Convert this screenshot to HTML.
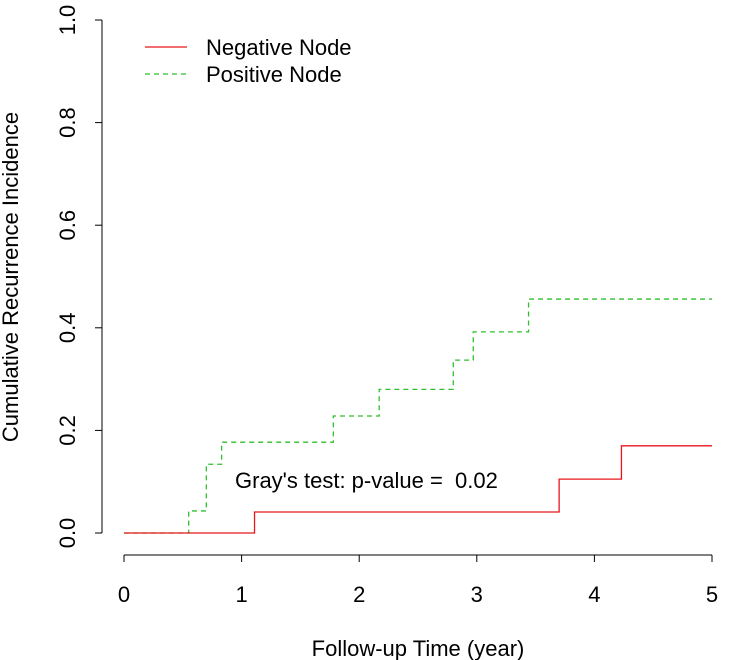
<!DOCTYPE html>
<html><head><meta charset="utf-8"><style>
body{margin:0;background:#fff}
svg{display:block;font-family:"Liberation Sans",Arial,sans-serif}
</style></head><body>
<svg width="736" height="660" id="c">
<g id="axes"></g><g id="series"></g>
<text x="235" y="488" font-size="22" style="white-space:pre">Gray's test: p-value =  0.02</text>
<text x="418" y="656" font-size="22" text-anchor="middle">Follow-up Time (year)</text>
<text transform="translate(18,277) rotate(-90)" font-size="22" text-anchor="middle">Cumulative Recurrence Incidence</text>
<g>
<g><line x1="145" y1="47" x2="187" y2="47" stroke="#e8161b" stroke-width="1.3"/><text x="206" y="55" font-size="22">Negative Node</text></g>
<g><line x1="145" y1="74" x2="187" y2="74" stroke="#2fbf2f" stroke-width="1.3" stroke-dasharray="5,4"/><text x="206" y="82" font-size="22">Positive Node</text></g>
</g>
</svg>
<script>
const xTicks=[0,1,2,3,4,5];
const yTicks=[0,0.2,0.4,0.6,0.8,1.0];
const yTickLabels=["0.0","0.2","0.4","0.6","0.8","1.0"];
const negTimes=[0,1.11,3.70,4.23,5];
const negValues=[0,0.041,0.105,0.17,0.17];
const posTimes=[0,0.55,0.70,0.83,1.78,2.17,2.80,2.97,3.44,5];
const posValues=[0,0.043,0.134,0.177,0.228,0.28,0.337,0.392,0.456,0.456];
const X=v=>124+v*117.6, Y=v=>533-v*513;
const NS="http://www.w3.org/2000/svg";
function mk(t,a,p){const e=document.createElementNS(NS,t);for(const k in a)e.setAttribute(k,a[k]);p.appendChild(e);return e;}
const ax=document.getElementById('axes');
let l=mk('line',{x1:X(0),y1:555,x2:X(5),y2:555,stroke:'#000'},ax);


xTicks.forEach(t=>{mk('line',{x1:X(t),y1:555,x2:X(t),y2:562,stroke:'#000'},ax);
const tx=mk('text',{x:X(t),y:602,'font-size':22,'text-anchor':'middle'},ax);tx.textContent=t;

});
l=mk('line',{x1:102,y1:Y(0),x2:102,y2:Y(1),stroke:'#000'},ax);


yTicks.forEach((t,i)=>{mk('line',{x1:95,y1:Y(t),x2:102,y2:Y(t),stroke:'#000'},ax);
const tx=mk('text',{transform:`translate(75,${Y(t)}) rotate(-90)`,'font-size':22,'text-anchor':'middle'},ax);tx.textContent=yTickLabels[i];

});
function step(ts,vs){let d=`M${X(ts[0])},${Y(vs[0])}`;for(let i=1;i<ts.length;i++){d+=`H${X(ts[i])}V${Y(vs[i])}`;}return d;}
const sg=document.getElementById('series');
let p=mk('path',{d:step(posTimes,posValues),fill:'none',stroke:'#2fbf2f','stroke-width':1.3,'stroke-dasharray':'5,4'},sg);


p=mk('path',{d:step(negTimes,negValues),fill:'none',stroke:'#e8161b','stroke-width':1.3},sg);


</script>
</body></html>
